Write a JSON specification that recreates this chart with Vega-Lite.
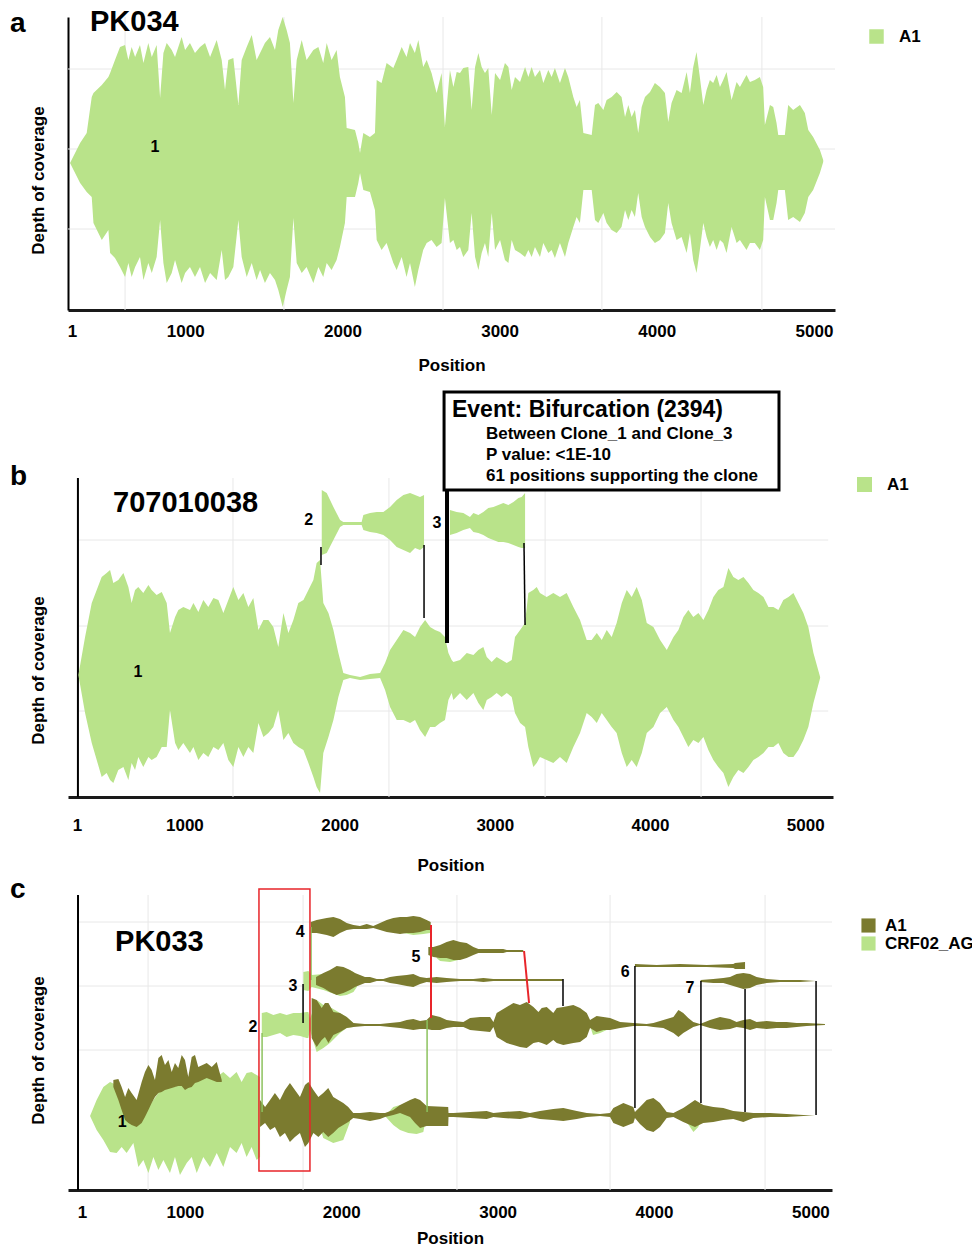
{
"$schema": "https://vega.github.io/schema/vega-lite/v6.json",
"background": "white",
"padding": {"left": 10, "top": 8, "right": 0, "bottom": 0},
"config": {"view": {"stroke": null}, "font": "Liberation Sans", "text": {"color": "black"}},
"spacing": 98,
"bounds": "flush",
"resolve": {"scale": {"color": "independent", "x": "independent", "y": "independent"}, "legend": {"color": "independent"}},
"datasets": {
"a_gx": [{"pos":617},{"pos":1628},{"pos":2640},{"pos":3651},{"pos":4669}],
"a_gy": [{"depth":241},{"depth":161},{"depth":81}],
"a_area": [
{"pos":267,"lo":147,"hi":147},{"pos":331,"lo":127,"hi":167},{"pos":373,"lo":118,"hi":177},{"pos":405,"lo":113,"hi":213},{"pos":416,"lo":87,"hi":217},{"pos":469,"lo":70,"hi":225},{"pos":511,"lo":80,"hi":233},{"pos":522,"lo":57,"hi":237},{"pos":553,"lo":52,"hi":250},{"pos":585,"lo":43,"hi":263},{"pos":617,"lo":33,"hi":265},{"pos":638,"lo":47,"hi":250},{"pos":659,"lo":33,"hi":263},{"pos":681,"lo":43,"hi":253},{"pos":712,"lo":53,"hi":265},{"pos":734,"lo":30,"hi":247},{"pos":765,"lo":47,"hi":267},{"pos":787,"lo":37,"hi":253},{"pos":818,"lo":53,"hi":265},{"pos":840,"lo":90,"hi":212},{"pos":861,"lo":47,"hi":257},{"pos":882,"lo":27,"hi":267},{"pos":914,"lo":37,"hi":260},{"pos":935,"lo":50,"hi":253},{"pos":977,"lo":27,"hi":273},{"pos":999,"lo":37,"hi":260},{"pos":1030,"lo":43,"hi":267},{"pos":1062,"lo":33,"hi":257},{"pos":1094,"lo":43,"hi":263},{"pos":1126,"lo":27,"hi":267},{"pos":1158,"lo":37,"hi":253},{"pos":1200,"lo":30,"hi":270},{"pos":1232,"lo":60,"hi":250},{"pos":1253,"lo":30,"hi":220},{"pos":1274,"lo":33,"hi":250},{"pos":1306,"lo":43,"hi":252},{"pos":1338,"lo":90,"hi":205},{"pos":1359,"lo":53,"hi":250},{"pos":1391,"lo":33,"hi":263},{"pos":1423,"lo":47,"hi":275},{"pos":1454,"lo":30,"hi":250},{"pos":1476,"lo":40,"hi":257},{"pos":1507,"lo":27,"hi":267},{"pos":1539,"lo":37,"hi":273},{"pos":1571,"lo":30,"hi":260},{"pos":1592,"lo":20,"hi":280},{"pos":1620,"lo":3,"hi":293},{"pos":1645,"lo":20,"hi":280},{"pos":1666,"lo":33,"hi":267},{"pos":1688,"lo":92,"hi":207},{"pos":1709,"lo":47,"hi":250},{"pos":1741,"lo":37,"hi":270},{"pos":1772,"lo":43,"hi":250},{"pos":1815,"lo":27,"hi":260},{"pos":1847,"lo":43,"hi":263},{"pos":1878,"lo":33,"hi":247},{"pos":1900,"lo":47,"hi":267},{"pos":1931,"lo":40,"hi":250},{"pos":1963,"lo":50,"hi":260},{"pos":1984,"lo":63,"hi":233},{"pos":2016,"lo":87,"hi":213},{"pos":2027,"lo":113,"hi":182},{"pos":2080,"lo":113,"hi":180},{"pos":2101,"lo":127,"hi":167},{"pos":2112,"lo":137,"hi":157},{"pos":2133,"lo":120,"hi":177},{"pos":2175,"lo":118,"hi":173},{"pos":2207,"lo":100,"hi":177},{"pos":2218,"lo":70,"hi":230},{"pos":2249,"lo":60,"hi":227},{"pos":2281,"lo":67,"hi":247},{"pos":2324,"lo":47,"hi":242},{"pos":2345,"lo":40,"hi":250},{"pos":2377,"lo":53,"hi":263},{"pos":2408,"lo":33,"hi":253},{"pos":2430,"lo":47,"hi":267},{"pos":2461,"lo":23,"hi":257},{"pos":2483,"lo":40,"hi":270},{"pos":2514,"lo":60,"hi":243},{"pos":2536,"lo":67,"hi":250},{"pos":2567,"lo":70,"hi":237},{"pos":2599,"lo":63,"hi":217},{"pos":2631,"lo":67,"hi":237},{"pos":2652,"lo":112,"hi":183},{"pos":2684,"lo":67,"hi":240},{"pos":2706,"lo":70,"hi":223},{"pos":2727,"lo":60,"hi":238},{"pos":2748,"lo":63,"hi":237},{"pos":2769,"lo":53,"hi":242},{"pos":2801,"lo":60,"hi":243},{"pos":2822,"lo":97,"hi":200},{"pos":2844,"lo":53,"hi":243},{"pos":2865,"lo":40,"hi":257},{"pos":2886,"lo":57,"hi":243},{"pos":2907,"lo":67,"hi":237},{"pos":2928,"lo":53,"hi":242},{"pos":2950,"lo":97,"hi":195},{"pos":2971,"lo":60,"hi":237},{"pos":3003,"lo":70,"hi":230},{"pos":3034,"lo":50,"hi":247},{"pos":3056,"lo":47,"hi":243},{"pos":3077,"lo":70,"hi":220},{"pos":3098,"lo":60,"hi":233},{"pos":3130,"lo":57,"hi":228},{"pos":3162,"lo":53,"hi":243},{"pos":3183,"lo":60,"hi":233},{"pos":3204,"lo":53,"hi":243},{"pos":3225,"lo":63,"hi":233},{"pos":3257,"lo":53,"hi":240},{"pos":3278,"lo":67,"hi":227},{"pos":3310,"lo":57,"hi":240},{"pos":3331,"lo":60,"hi":233},{"pos":3352,"lo":52,"hi":242},{"pos":3384,"lo":67,"hi":227},{"pos":3416,"lo":53,"hi":242},{"pos":3437,"lo":67,"hi":233},{"pos":3469,"lo":83,"hi":213},{"pos":3490,"lo":93,"hi":203},{"pos":3511,"lo":87,"hi":210},{"pos":3533,"lo":120,"hi":177},{"pos":3586,"lo":120,"hi":175},{"pos":3607,"lo":90,"hi":205},{"pos":3628,"lo":87,"hi":207},{"pos":3660,"lo":97,"hi":200},{"pos":3681,"lo":87,"hi":210},{"pos":3713,"lo":80,"hi":213},{"pos":3745,"lo":77,"hi":218},{"pos":3776,"lo":83,"hi":213},{"pos":3798,"lo":100,"hi":193},{"pos":3819,"lo":90,"hi":205},{"pos":3840,"lo":100,"hi":193},{"pos":3861,"lo":93,"hi":200},{"pos":3882,"lo":117,"hi":177},{"pos":3904,"lo":93,"hi":203},{"pos":3925,"lo":83,"hi":213},{"pos":3957,"lo":73,"hi":218},{"pos":3988,"lo":67,"hi":227},{"pos":4020,"lo":70,"hi":223},{"pos":4052,"lo":77,"hi":217},{"pos":4073,"lo":107,"hi":188},{"pos":4094,"lo":87,"hi":207},{"pos":4126,"lo":70,"hi":220},{"pos":4158,"lo":73,"hi":217},{"pos":4190,"lo":57,"hi":238},{"pos":4211,"lo":77,"hi":217},{"pos":4232,"lo":50,"hi":243},{"pos":4253,"lo":37,"hi":258},{"pos":4274,"lo":60,"hi":233},{"pos":4296,"lo":87,"hi":205},{"pos":4317,"lo":73,"hi":220},{"pos":4338,"lo":63,"hi":230},{"pos":4359,"lo":70,"hi":227},{"pos":4381,"lo":60,"hi":235},{"pos":4402,"lo":70,"hi":223},{"pos":4423,"lo":67,"hi":230},{"pos":4444,"lo":57,"hi":238},{"pos":4476,"lo":83,"hi":210},{"pos":4508,"lo":67,"hi":228},{"pos":4529,"lo":70,"hi":223},{"pos":4571,"lo":60,"hi":235},{"pos":4593,"lo":67,"hi":228},{"pos":4624,"lo":67,"hi":230},{"pos":4656,"lo":60,"hi":233},{"pos":4677,"lo":70,"hi":223},{"pos":4688,"lo":113,"hi":185},{"pos":4720,"lo":90,"hi":205},{"pos":4741,"lo":90,"hi":203},{"pos":4762,"lo":107,"hi":187},{"pos":4773,"lo":120,"hi":175},{"pos":4815,"lo":120,"hi":175},{"pos":4836,"lo":90,"hi":205},{"pos":4868,"lo":93,"hi":200},{"pos":4911,"lo":88,"hi":205},{"pos":4942,"lo":97,"hi":197},{"pos":4964,"lo":113,"hi":180},{"pos":4995,"lo":120,"hi":173},{"pos":5038,"lo":137,"hi":160},{"pos":5059,"lo":148,"hi":150}],
"a_label": [{"clone":"1","pos":808,"depth":163}],
"a_name": [{"sample":"PK034","pos":394,"depth":288}],
"b_gx": [{"pos":1313},{"pos":2318},{"pos":3324},{"pos":4329}],
"b_gy": [{"depth":257},{"depth":171},{"depth":86}],
"b_axis": [{"pos":314}],
"b_area": [
{"clone":"1","pos":317,"lo":122,"hi":122},{"clone":"1","pos":360,"lo":84,"hi":160},{"clone":"1","pos":403,"lo":54,"hi":194},{"clone":"1","pos":435,"lo":37,"hi":207},{"clone":"1","pos":467,"lo":20,"hi":220},{"clone":"1","pos":499,"lo":24,"hi":224},{"clone":"1","pos":521,"lo":17,"hi":227},{"clone":"1","pos":542,"lo":14,"hi":214},{"clone":"1","pos":574,"lo":27,"hi":217},{"clone":"1","pos":607,"lo":30,"hi":224},{"clone":"1","pos":639,"lo":17,"hi":210},{"clone":"1","pos":660,"lo":34,"hi":194},{"clone":"1","pos":682,"lo":27,"hi":207},{"clone":"1","pos":703,"lo":40,"hi":210},{"clone":"1","pos":735,"lo":30,"hi":204},{"clone":"1","pos":768,"lo":40,"hi":212},{"clone":"1","pos":789,"lo":37,"hi":207},{"clone":"1","pos":821,"lo":40,"hi":202},{"clone":"1","pos":854,"lo":50,"hi":205},{"clone":"1","pos":886,"lo":50,"hi":194},{"clone":"1","pos":907,"lo":87,"hi":164},{"clone":"1","pos":940,"lo":54,"hi":180},{"clone":"1","pos":961,"lo":47,"hi":187},{"clone":"1","pos":993,"lo":54,"hi":190},{"clone":"1","pos":1036,"lo":44,"hi":187},{"clone":"1","pos":1058,"lo":50,"hi":194},{"clone":"1","pos":1090,"lo":37,"hi":185},{"clone":"1","pos":1122,"lo":44,"hi":197},{"clone":"1","pos":1154,"lo":40,"hi":190},{"clone":"1","pos":1187,"lo":50,"hi":199},{"clone":"1","pos":1219,"lo":47,"hi":197},{"clone":"1","pos":1251,"lo":54,"hi":184},{"clone":"1","pos":1283,"lo":37,"hi":197},{"clone":"1","pos":1315,"lo":30,"hi":210},{"clone":"1","pos":1348,"lo":50,"hi":197},{"clone":"1","pos":1380,"lo":40,"hi":204},{"clone":"1","pos":1412,"lo":50,"hi":190},{"clone":"1","pos":1444,"lo":44,"hi":199},{"clone":"1","pos":1477,"lo":74,"hi":167},{"clone":"1","pos":1509,"lo":60,"hi":177},{"clone":"1","pos":1541,"lo":64,"hi":177},{"clone":"1","pos":1573,"lo":70,"hi":170},{"clone":"1","pos":1605,"lo":87,"hi":150},{"clone":"1","pos":1638,"lo":57,"hi":184},{"clone":"1","pos":1670,"lo":64,"hi":164},{"clone":"1","pos":1702,"lo":54,"hi":177},{"clone":"1","pos":1734,"lo":50,"hi":194},{"clone":"1","pos":1767,"lo":47,"hi":197},{"clone":"1","pos":1799,"lo":34,"hi":207},{"clone":"1","pos":1831,"lo":20,"hi":217},{"clone":"1","pos":1852,"lo":10,"hi":234},{"clone":"1","pos":1874,"lo":4,"hi":237},{"clone":"1","pos":1895,"lo":44,"hi":194},{"clone":"1","pos":1928,"lo":60,"hi":184},{"clone":"1","pos":1960,"lo":77,"hi":167},{"clone":"1","pos":1992,"lo":100,"hi":144},{"clone":"1","pos":2024,"lo":117,"hi":124},{"clone":"1","pos":2067,"lo":119,"hi":122},{"clone":"1","pos":2132,"lo":117,"hi":120},{"clone":"1","pos":2196,"lo":118,"hi":123},{"clone":"1","pos":2261,"lo":119,"hi":124},{"clone":"1","pos":2293,"lo":107,"hi":134},{"clone":"1","pos":2325,"lo":90,"hi":147},{"clone":"1","pos":2368,"lo":77,"hi":157},{"clone":"1","pos":2411,"lo":77,"hi":167},{"clone":"1","pos":2454,"lo":74,"hi":164},{"clone":"1","pos":2486,"lo":77,"hi":160},{"clone":"1","pos":2518,"lo":67,"hi":170},{"clone":"1","pos":2551,"lo":60,"hi":177},{"clone":"1","pos":2583,"lo":70,"hi":170},{"clone":"1","pos":2615,"lo":70,"hi":167},{"clone":"1","pos":2647,"lo":74,"hi":165},{"clone":"1","pos":2679,"lo":77,"hi":160},{"clone":"1","pos":2701,"lo":97,"hi":144},{"clone":"1","pos":2722,"lo":104,"hi":137},{"clone":"1","pos":2733,"lo":97,"hi":135},{"clone":"1","pos":2776,"lo":104,"hi":137},{"clone":"1","pos":2819,"lo":97,"hi":144},{"clone":"1","pos":2862,"lo":104,"hi":142},{"clone":"1","pos":2894,"lo":94,"hi":147},{"clone":"1","pos":2926,"lo":87,"hi":150},{"clone":"1","pos":2948,"lo":97,"hi":140},{"clone":"1","pos":2980,"lo":100,"hi":135},{"clone":"1","pos":3012,"lo":104,"hi":140},{"clone":"1","pos":3044,"lo":100,"hi":137},{"clone":"1","pos":3077,"lo":104,"hi":134},{"clone":"1","pos":3109,"lo":100,"hi":137},{"clone":"1","pos":3130,"lo":84,"hi":160},{"clone":"1","pos":3163,"lo":74,"hi":167},{"clone":"1","pos":3195,"lo":70,"hi":174},{"clone":"1","pos":3216,"lo":50,"hi":204},{"clone":"1","pos":3248,"lo":30,"hi":207},{"clone":"1","pos":3270,"lo":34,"hi":210},{"clone":"1","pos":3291,"lo":40,"hi":204},{"clone":"1","pos":3334,"lo":37,"hi":200},{"clone":"1","pos":3377,"lo":34,"hi":204},{"clone":"1","pos":3420,"lo":40,"hi":200},{"clone":"1","pos":3463,"lo":34,"hi":204},{"clone":"1","pos":3506,"lo":50,"hi":190},{"clone":"1","pos":3549,"lo":64,"hi":177},{"clone":"1","pos":3592,"lo":84,"hi":157},{"clone":"1","pos":3624,"lo":80,"hi":157},{"clone":"1","pos":3657,"lo":74,"hi":164},{"clone":"1","pos":3689,"lo":84,"hi":157},{"clone":"1","pos":3721,"lo":77,"hi":167},{"clone":"1","pos":3753,"lo":70,"hi":160},{"clone":"1","pos":3785,"lo":64,"hi":174},{"clone":"1","pos":3818,"lo":44,"hi":194},{"clone":"1","pos":3850,"lo":30,"hi":207},{"clone":"1","pos":3882,"lo":37,"hi":200},{"clone":"1","pos":3914,"lo":30,"hi":210},{"clone":"1","pos":3947,"lo":44,"hi":197},{"clone":"1","pos":3979,"lo":64,"hi":174},{"clone":"1","pos":4022,"lo":70,"hi":170},{"clone":"1","pos":4065,"lo":84,"hi":157},{"clone":"1","pos":4108,"lo":90,"hi":147},{"clone":"1","pos":4151,"lo":77,"hi":160},{"clone":"1","pos":4183,"lo":70,"hi":167},{"clone":"1","pos":4215,"lo":60,"hi":180},{"clone":"1","pos":4247,"lo":50,"hi":187},{"clone":"1","pos":4279,"lo":57,"hi":180},{"clone":"1","pos":4312,"lo":54,"hi":184},{"clone":"1","pos":4344,"lo":60,"hi":177},{"clone":"1","pos":4376,"lo":47,"hi":187},{"clone":"1","pos":4408,"lo":37,"hi":200},{"clone":"1","pos":4440,"lo":30,"hi":207},{"clone":"1","pos":4473,"lo":24,"hi":210},{"clone":"1","pos":4505,"lo":10,"hi":229},{"clone":"1","pos":4537,"lo":20,"hi":220},{"clone":"1","pos":4569,"lo":27,"hi":217},{"clone":"1","pos":4602,"lo":24,"hi":220},{"clone":"1","pos":4634,"lo":30,"hi":214},{"clone":"1","pos":4666,"lo":37,"hi":207},{"clone":"1","pos":4698,"lo":40,"hi":204},{"clone":"1","pos":4731,"lo":44,"hi":200},{"clone":"1","pos":4763,"lo":50,"hi":190},{"clone":"1","pos":4795,"lo":50,"hi":190},{"clone":"1","pos":4827,"lo":54,"hi":187},{"clone":"1","pos":4859,"lo":44,"hi":197},{"clone":"1","pos":4892,"lo":40,"hi":200},{"clone":"1","pos":4924,"lo":40,"hi":204},{"clone":"1","pos":4956,"lo":47,"hi":194},{"clone":"1","pos":4988,"lo":57,"hi":184},{"clone":"1","pos":5020,"lo":70,"hi":170},{"clone":"1","pos":5053,"lo":94,"hi":144},{"clone":"1","pos":5096,"lo":119,"hi":120},
{"clone":"2","pos":1885,"lo":242,"hi":307},{"clone":"2","pos":1917,"lo":244,"hi":304},{"clone":"2","pos":1960,"lo":257,"hi":290},{"clone":"2","pos":2003,"lo":270,"hi":277},{"clone":"2","pos":2024,"lo":272,"hi":275},{"clone":"2","pos":2142,"lo":272,"hi":275},{"clone":"2","pos":2153,"lo":267,"hi":282},{"clone":"2","pos":2196,"lo":265,"hi":284},{"clone":"2","pos":2239,"lo":264,"hi":285},{"clone":"2","pos":2282,"lo":262,"hi":285},{"clone":"2","pos":2325,"lo":257,"hi":290},{"clone":"2","pos":2368,"lo":250,"hi":297},{"clone":"2","pos":2411,"lo":247,"hi":302},{"clone":"2","pos":2454,"lo":244,"hi":304},{"clone":"2","pos":2486,"lo":249,"hi":302},{"clone":"2","pos":2518,"lo":247,"hi":300},{"clone":"2","pos":2544,"lo":250,"hi":302},
{"clone":"3","pos":2711,"lo":262,"hi":287},{"clone":"3","pos":2754,"lo":264,"hi":285},{"clone":"3","pos":2797,"lo":267,"hi":284},{"clone":"3","pos":2840,"lo":269,"hi":280},{"clone":"3","pos":2862,"lo":265,"hi":284},{"clone":"3","pos":2894,"lo":264,"hi":282},{"clone":"3","pos":2926,"lo":262,"hi":285},{"clone":"3","pos":2958,"lo":259,"hi":289},{"clone":"3","pos":2991,"lo":257,"hi":290},{"clone":"3","pos":3023,"lo":255,"hi":292},{"clone":"3","pos":3055,"lo":255,"hi":294},{"clone":"3","pos":3087,"lo":254,"hi":292},{"clone":"3","pos":3120,"lo":252,"hi":295},{"clone":"3","pos":3152,"lo":250,"hi":299},{"clone":"3","pos":3173,"lo":249,"hi":300},{"clone":"3","pos":3195,"lo":249,"hi":304}],
"b_links": [{"pos":1880,"pos2":1880,"lo":232,"hi":250},{"pos":2544,"pos2":2544,"lo":179,"hi":252},{"pos":3195,"pos2":3188,"lo":172,"hi":254}],
"b_thick": [{"pos":2692,"pos2":2692,"lo":154,"hi":307}],
"b_box": [{"pos":2673,"pos2":4831,"lo":307,"hi":405}],
"b_head": [{"text":"Event: Bifurcation (2394)","pos":2724,"depth":387}],
"b_body": [{"text":"Between Clone_1 and Clone_3","pos":2943,"depth":363},{"text":"P value: <1E-10","pos":2943,"depth":342},{"text":"61 positions supporting the clone","pos":2943,"depth":321}],
"b_label": [{"clone":"1","pos":701,"depth":125},{"clone":"2","pos":1801,"depth":277},{"clone":"3","pos":2627,"depth":274}],
"b_name": [{"sample":"707010038","pos":540,"depth":294}],
"c_gx": [{"pos":765},{"pos":1756},{"pos":2740},{"pos":3719},{"pos":4710}],
"c_gy": [{"depth":268},{"depth":204},{"depth":140}],
"c_axis": [{"pos":317}],
"c_crf": [
{"clone":"1a","pos":394,"lo":74,"hi":74},{"clone":"1a","pos":436,"lo":60,"hi":90},{"clone":"1a","pos":479,"lo":50,"hi":103},{"clone":"1a","pos":522,"lo":38,"hi":108},{"clone":"1a","pos":564,"lo":37,"hi":105},{"clone":"1a","pos":596,"lo":43,"hi":90},{"clone":"1a","pos":628,"lo":37,"hi":80},{"clone":"1a","pos":671,"lo":47,"hi":77},{"clone":"1a","pos":703,"lo":23,"hi":78},{"clone":"1a","pos":735,"lo":30,"hi":80},{"clone":"1a","pos":767,"lo":17,"hi":83},{"clone":"1a","pos":799,"lo":33,"hi":90},{"clone":"1a","pos":831,"lo":20,"hi":97},{"clone":"1a","pos":863,"lo":30,"hi":100},{"clone":"1a","pos":905,"lo":17,"hi":103},{"clone":"1a","pos":937,"lo":33,"hi":103},{"clone":"1a","pos":969,"lo":15,"hi":107},{"clone":"1a","pos":1012,"lo":27,"hi":105},{"clone":"1a","pos":1044,"lo":33,"hi":108},{"clone":"1a","pos":1076,"lo":17,"hi":115},{"clone":"1a","pos":1118,"lo":33,"hi":122},{"clone":"1a","pos":1161,"lo":23,"hi":118},{"clone":"1a","pos":1204,"lo":37,"hi":113},{"clone":"1a","pos":1246,"lo":23,"hi":118},{"clone":"1a","pos":1289,"lo":43,"hi":112},{"clone":"1a","pos":1331,"lo":37,"hi":118},{"clone":"1a","pos":1363,"lo":47,"hi":108},{"clone":"1a","pos":1395,"lo":33,"hi":117},{"clone":"1a","pos":1427,"lo":43,"hi":118},{"clone":"1a","pos":1459,"lo":30,"hi":115},{"clone":"1a","pos":1481,"lo":33,"hi":113},
{"clone":"1b","pos":1854,"lo":68,"hi":72},{"clone":"1b","pos":1885,"lo":52,"hi":73},{"clone":"1b","pos":1949,"lo":47,"hi":77},{"clone":"1b","pos":2013,"lo":50,"hi":78},{"clone":"1b","pos":2056,"lo":68,"hi":75},
{"clone":"1c","pos":2280,"lo":74,"hi":74},{"clone":"1c","pos":2333,"lo":65,"hi":83},{"clone":"1c","pos":2376,"lo":60,"hi":85},{"clone":"1c","pos":2429,"lo":57,"hi":82},{"clone":"1c","pos":2482,"lo":56,"hi":77},{"clone":"1c","pos":2525,"lo":58,"hi":72},{"clone":"1c","pos":2540,"lo":70,"hi":72},
{"clone":"1d","pos":4200,"lo":70,"hi":75},{"clone":"1d","pos":4252,"lo":58,"hi":77},{"clone":"1d","pos":4283,"lo":63,"hi":77},{"clone":"1d","pos":4300,"lo":70,"hi":75},
{"clone":"2a","pos":1492,"lo":153,"hi":177},{"clone":"2a","pos":1523,"lo":153,"hi":178},{"clone":"2a","pos":1566,"lo":155,"hi":175},{"clone":"2a","pos":1609,"lo":157,"hi":177},{"clone":"2a","pos":1651,"lo":153,"hi":175},{"clone":"2a","pos":1694,"lo":155,"hi":177},{"clone":"2a","pos":1737,"lo":154,"hi":177},{"clone":"2a","pos":1779,"lo":152,"hi":178},{"clone":"2a","pos":1790,"lo":152,"hi":178},{"clone":"2a","pos":1800,"lo":160,"hi":171},{"clone":"2a","pos":1843,"lo":138,"hi":190},{"clone":"2a","pos":1886,"lo":142,"hi":185},{"clone":"2a","pos":1928,"lo":147,"hi":183},{"clone":"2a","pos":1992,"lo":157,"hi":177},{"clone":"2a","pos":2035,"lo":162,"hi":173},{"clone":"2a","pos":2078,"lo":163,"hi":167},
{"clone":"2b","pos":3595,"lo":162,"hi":168},{"clone":"2b","pos":3610,"lo":155,"hi":168},{"clone":"2b","pos":3655,"lo":157,"hi":167},{"clone":"2b","pos":3697,"lo":160,"hi":165},
{"clone":"3","pos":1758,"lo":200,"hi":218},{"clone":"3","pos":1790,"lo":199,"hi":219},{"clone":"3","pos":1811,"lo":203,"hi":215},{"clone":"3","pos":1886,"lo":200,"hi":216},{"clone":"3","pos":1992,"lo":194,"hi":222},{"clone":"3","pos":2035,"lo":195,"hi":221},{"clone":"3","pos":2078,"lo":198,"hi":218},{"clone":"3","pos":2100,"lo":203,"hi":215},
{"clone":"4","pos":2397,"lo":257,"hi":267},{"clone":"4","pos":2461,"lo":255,"hi":263},{"clone":"4","pos":2525,"lo":256,"hi":263},{"clone":"4","pos":2568,"lo":257,"hi":263},
{"clone":"5","pos":2610,"lo":232,"hi":243},{"clone":"5","pos":2632,"lo":229,"hi":243},{"clone":"5","pos":2696,"lo":228,"hi":243},{"clone":"5","pos":2749,"lo":230,"hi":242},{"clone":"5","pos":2770,"lo":232,"hi":242}],
"c_a1": [
{"clone":"1a","pos":543,"lo":103,"hi":110},{"clone":"1a","pos":575,"lo":90,"hi":111},{"clone":"1a","pos":596,"lo":80,"hi":103},{"clone":"1a","pos":618,"lo":70,"hi":93},{"clone":"1a","pos":639,"lo":67,"hi":102},{"clone":"1a","pos":660,"lo":65,"hi":97},{"clone":"1a","pos":692,"lo":63,"hi":90},{"clone":"1a","pos":724,"lo":67,"hi":108},{"clone":"1a","pos":745,"lo":73,"hi":118},{"clone":"1a","pos":767,"lo":80,"hi":125},{"clone":"1a","pos":788,"lo":87,"hi":120},{"clone":"1a","pos":809,"lo":93,"hi":110},{"clone":"1a","pos":831,"lo":97,"hi":132},{"clone":"1a","pos":852,"lo":98,"hi":135},{"clone":"1a","pos":873,"lo":100,"hi":125},{"clone":"1a","pos":895,"lo":101,"hi":130},{"clone":"1a","pos":916,"lo":102,"hi":118},{"clone":"1a","pos":937,"lo":103,"hi":127},{"clone":"1a","pos":958,"lo":104,"hi":122},{"clone":"1a","pos":980,"lo":104,"hi":135},{"clone":"1a","pos":1001,"lo":100,"hi":130},{"clone":"1a","pos":1022,"lo":102,"hi":113},{"clone":"1a","pos":1044,"lo":103,"hi":133},{"clone":"1a","pos":1065,"lo":107,"hi":135},{"clone":"1a","pos":1086,"lo":108,"hi":123},{"clone":"1a","pos":1140,"lo":112,"hi":127},{"clone":"1a","pos":1172,"lo":110,"hi":123},{"clone":"1a","pos":1204,"lo":108,"hi":128},{"clone":"1a","pos":1236,"lo":108,"hi":110},
{"clone":"1b","pos":1481,"lo":63,"hi":90},{"clone":"1b","pos":1513,"lo":67,"hi":83},{"clone":"1b","pos":1545,"lo":60,"hi":90},{"clone":"1b","pos":1576,"lo":63,"hi":97},{"clone":"1b","pos":1608,"lo":53,"hi":90},{"clone":"1b","pos":1640,"lo":57,"hi":100},{"clone":"1b","pos":1672,"lo":48,"hi":107},{"clone":"1b","pos":1704,"lo":53,"hi":100},{"clone":"1b","pos":1736,"lo":57,"hi":93},{"clone":"1b","pos":1768,"lo":43,"hi":105},{"clone":"1b","pos":1790,"lo":47,"hi":108},{"clone":"1b","pos":1822,"lo":57,"hi":100},{"clone":"1b","pos":1854,"lo":53,"hi":93},{"clone":"1b","pos":1885,"lo":58,"hi":97},{"clone":"1b","pos":1917,"lo":53,"hi":102},{"clone":"1b","pos":1949,"lo":57,"hi":93},{"clone":"1b","pos":1981,"lo":62,"hi":90},{"clone":"1b","pos":2013,"lo":65,"hi":87},{"clone":"1b","pos":2045,"lo":68,"hi":83},{"clone":"1b","pos":2077,"lo":72,"hi":77},{"clone":"1b","pos":2120,"lo":71,"hi":77},{"clone":"1b","pos":2184,"lo":69,"hi":78},{"clone":"1b","pos":2248,"lo":71,"hi":77},{"clone":"1b","pos":2280,"lo":73,"hi":77},{"clone":"1b","pos":2333,"lo":75,"hi":80},{"clone":"1b","pos":2376,"lo":77,"hi":85},{"clone":"1b","pos":2440,"lo":73,"hi":90},{"clone":"1b","pos":2472,"lo":67,"hi":92},{"clone":"1b","pos":2504,"lo":62,"hi":90},{"clone":"1b","pos":2546,"lo":64,"hi":84},{"clone":"1b","pos":2684,"lo":64,"hi":83},{"clone":"1b","pos":2686,"lo":73,"hi":77},{"clone":"1b","pos":2717,"lo":73,"hi":77},{"clone":"1b","pos":2824,"lo":72,"hi":78},{"clone":"1b","pos":2930,"lo":71,"hi":79},{"clone":"1b","pos":2973,"lo":73,"hi":77},{"clone":"1b","pos":3037,"lo":72,"hi":78},{"clone":"1b","pos":3143,"lo":71,"hi":79},{"clone":"1b","pos":3207,"lo":73,"hi":77},{"clone":"1b","pos":3271,"lo":71,"hi":79},{"clone":"1b","pos":3356,"lo":70,"hi":81},{"clone":"1b","pos":3420,"lo":69,"hi":82},{"clone":"1b","pos":3506,"lo":71,"hi":79},{"clone":"1b","pos":3570,"lo":73,"hi":77},{"clone":"1b","pos":3655,"lo":74,"hi":76},{"clone":"1b","pos":3719,"lo":73,"hi":77},{"clone":"1b","pos":3740,"lo":67,"hi":82},{"clone":"1b","pos":3804,"lo":63,"hi":87},{"clone":"1b","pos":3868,"lo":67,"hi":83},{"clone":"1b","pos":3878,"lo":72,"hi":78},{"clone":"1b","pos":3910,"lo":66,"hi":83},{"clone":"1b","pos":3953,"lo":60,"hi":90},{"clone":"1b","pos":3996,"lo":58,"hi":92},{"clone":"1b","pos":4038,"lo":63,"hi":87},{"clone":"1b","pos":4081,"lo":72,"hi":78},{"clone":"1b","pos":4124,"lo":73,"hi":77},{"clone":"1b","pos":4187,"lo":68,"hi":82},{"clone":"1b","pos":4262,"lo":63,"hi":90},{"clone":"1b","pos":4315,"lo":67,"hi":85},{"clone":"1b","pos":4379,"lo":68,"hi":83},{"clone":"1b","pos":4443,"lo":70,"hi":82},{"clone":"1b","pos":4507,"lo":71,"hi":79},{"clone":"1b","pos":4571,"lo":68,"hi":78},{"clone":"1b","pos":4635,"lo":72,"hi":77},{"clone":"1b","pos":4742,"lo":73,"hi":77},{"clone":"1b","pos":4848,"lo":73,"hi":76},{"clone":"1b","pos":4955,"lo":74,"hi":75},{"clone":"1b","pos":5029,"lo":75,"hi":75},
{"clone":"2","pos":1811,"lo":152,"hi":192},{"clone":"2","pos":1843,"lo":143,"hi":190},{"clone":"2","pos":1875,"lo":150,"hi":182},{"clone":"2","pos":1896,"lo":153,"hi":187},{"clone":"2","pos":1918,"lo":147,"hi":187},{"clone":"2","pos":1950,"lo":155,"hi":178},{"clone":"2","pos":1992,"lo":158,"hi":177},{"clone":"2","pos":2035,"lo":162,"hi":173},{"clone":"2","pos":2078,"lo":163,"hi":167},{"clone":"2","pos":2150,"lo":164,"hi":166},{"clone":"2","pos":2250,"lo":164,"hi":166},{"clone":"2","pos":2312,"lo":163,"hi":167},{"clone":"2","pos":2376,"lo":162,"hi":168},{"clone":"2","pos":2419,"lo":161,"hi":170},{"clone":"2","pos":2461,"lo":160,"hi":171},{"clone":"2","pos":2504,"lo":161,"hi":169},{"clone":"2","pos":2546,"lo":161,"hi":170},{"clone":"2","pos":2579,"lo":160,"hi":175},{"clone":"2","pos":2632,"lo":160,"hi":173},{"clone":"2","pos":2674,"lo":162,"hi":170},{"clone":"2","pos":2717,"lo":163,"hi":169},{"clone":"2","pos":2781,"lo":163,"hi":168},{"clone":"2","pos":2824,"lo":160,"hi":172},{"clone":"2","pos":2888,"lo":159,"hi":173},{"clone":"2","pos":2952,"lo":158,"hi":173},{"clone":"2","pos":2973,"lo":163,"hi":168},{"clone":"2","pos":2994,"lo":153,"hi":177},{"clone":"2","pos":3058,"lo":147,"hi":183},{"clone":"2","pos":3101,"lo":145,"hi":187},{"clone":"2","pos":3143,"lo":143,"hi":185},{"clone":"2","pos":3186,"lo":142,"hi":188},{"clone":"2","pos":3229,"lo":147,"hi":183},{"clone":"2","pos":3261,"lo":148,"hi":178},{"clone":"2","pos":3282,"lo":147,"hi":182},{"clone":"2","pos":3314,"lo":145,"hi":183},{"clone":"2","pos":3356,"lo":150,"hi":177},{"clone":"2","pos":3378,"lo":147,"hi":182},{"clone":"2","pos":3420,"lo":145,"hi":183},{"clone":"2","pos":3484,"lo":147,"hi":185},{"clone":"2","pos":3527,"lo":148,"hi":182},{"clone":"2","pos":3570,"lo":153,"hi":177},{"clone":"2","pos":3591,"lo":162,"hi":170},{"clone":"2","pos":3633,"lo":158,"hi":174},{"clone":"2","pos":3676,"lo":160,"hi":173},{"clone":"2","pos":3719,"lo":160,"hi":172},{"clone":"2","pos":3783,"lo":162,"hi":168},{"clone":"2","pos":3868,"lo":164,"hi":167},{"clone":"2","pos":3953,"lo":164,"hi":166},{"clone":"2","pos":3996,"lo":163,"hi":167},{"clone":"2","pos":4060,"lo":162,"hi":170},{"clone":"2","pos":4124,"lo":157,"hi":173},{"clone":"2","pos":4156,"lo":153,"hi":180},{"clone":"2","pos":4187,"lo":157,"hi":177},{"clone":"2","pos":4219,"lo":160,"hi":172},{"clone":"2","pos":4251,"lo":163,"hi":168},{"clone":"2","pos":4294,"lo":165,"hi":166},{"clone":"2","pos":4358,"lo":162,"hi":170},{"clone":"2","pos":4422,"lo":160,"hi":173},{"clone":"2","pos":4486,"lo":161,"hi":171},{"clone":"2","pos":4528,"lo":163,"hi":168},{"clone":"2","pos":4571,"lo":162,"hi":170},{"clone":"2","pos":4614,"lo":160,"hi":171},{"clone":"2","pos":4656,"lo":162,"hi":168},{"clone":"2","pos":4720,"lo":161,"hi":169},{"clone":"2","pos":4784,"lo":162,"hi":168},{"clone":"2","pos":4848,"lo":162,"hi":168},{"clone":"2","pos":4912,"lo":163,"hi":167},{"clone":"2","pos":4976,"lo":164,"hi":167},{"clone":"2","pos":5093,"lo":165,"hi":166},
{"clone":"3","pos":1839,"lo":205,"hi":213},{"clone":"3","pos":1886,"lo":202,"hi":217},{"clone":"3","pos":1928,"lo":198,"hi":220},{"clone":"3","pos":1971,"lo":195,"hi":224},{"clone":"3","pos":2014,"lo":197,"hi":223},{"clone":"3","pos":2056,"lo":200,"hi":220},{"clone":"3","pos":2088,"lo":203,"hi":217},{"clone":"3","pos":2120,"lo":205,"hi":215},{"clone":"3","pos":2152,"lo":207,"hi":213},{"clone":"3","pos":2184,"lo":207,"hi":213},{"clone":"3","pos":2227,"lo":209,"hi":211},{"clone":"3","pos":2269,"lo":209,"hi":211},{"clone":"3","pos":2312,"lo":207,"hi":213},{"clone":"3","pos":2355,"lo":206,"hi":214},{"clone":"3","pos":2419,"lo":204,"hi":215},{"clone":"3","pos":2461,"lo":203,"hi":216},{"clone":"3","pos":2504,"lo":206,"hi":213},{"clone":"3","pos":2546,"lo":208,"hi":212},{"clone":"3","pos":2610,"lo":207,"hi":213},{"clone":"3","pos":2674,"lo":208,"hi":212},{"clone":"3","pos":2760,"lo":209,"hi":211},{"clone":"3","pos":2845,"lo":209,"hi":211},{"clone":"3","pos":2909,"lo":208,"hi":212},{"clone":"3","pos":2973,"lo":209,"hi":211},{"clone":"3","pos":3058,"lo":209,"hi":211},{"clone":"3","pos":3164,"lo":209,"hi":211},{"clone":"3","pos":3271,"lo":209,"hi":211},{"clone":"3","pos":3416,"lo":209,"hi":211},
{"clone":"4","pos":1805,"lo":257,"hi":268},{"clone":"4","pos":1843,"lo":257,"hi":270},{"clone":"4","pos":1907,"lo":255,"hi":272},{"clone":"4","pos":1950,"lo":253,"hi":273},{"clone":"4","pos":1992,"lo":257,"hi":271},{"clone":"4","pos":2035,"lo":260,"hi":267},{"clone":"4","pos":2078,"lo":261,"hi":265},{"clone":"4","pos":2120,"lo":261,"hi":264},{"clone":"4","pos":2163,"lo":261,"hi":266},{"clone":"4","pos":2205,"lo":262,"hi":264},{"clone":"4","pos":2248,"lo":260,"hi":267},{"clone":"4","pos":2291,"lo":258,"hi":270},{"clone":"4","pos":2333,"lo":257,"hi":272},{"clone":"4","pos":2376,"lo":256,"hi":273},{"clone":"4","pos":2419,"lo":257,"hi":273},{"clone":"4","pos":2461,"lo":257,"hi":274},{"clone":"4","pos":2504,"lo":258,"hi":273},{"clone":"4","pos":2546,"lo":260,"hi":270},{"clone":"4","pos":2572,"lo":260,"hi":268},
{"clone":"5","pos":2557,"lo":235,"hi":243},{"clone":"5","pos":2589,"lo":233,"hi":243},{"clone":"5","pos":2632,"lo":232,"hi":245},{"clone":"5","pos":2674,"lo":232,"hi":248},{"clone":"5","pos":2717,"lo":230,"hi":250},{"clone":"5","pos":2760,"lo":230,"hi":248},{"clone":"5","pos":2802,"lo":232,"hi":247},{"clone":"5","pos":2845,"lo":235,"hi":243},{"clone":"5","pos":2877,"lo":237,"hi":241},{"clone":"5","pos":2909,"lo":237,"hi":241},{"clone":"5","pos":3036,"lo":237,"hi":241},{"clone":"5","pos":3058,"lo":238,"hi":240},{"clone":"5","pos":3164,"lo":238,"hi":240},
{"clone":"6","pos":3878,"lo":223,"hi":226},{"clone":"6","pos":4017,"lo":223,"hi":225},{"clone":"6","pos":4166,"lo":223,"hi":226},{"clone":"6","pos":4337,"lo":223,"hi":225},{"clone":"6","pos":4507,"lo":222,"hi":226},{"clone":"6","pos":4518,"lo":221,"hi":227},{"clone":"6","pos":4582,"lo":221,"hi":228},
{"clone":"7","pos":4298,"lo":208,"hi":210},{"clone":"7","pos":4379,"lo":207,"hi":211},{"clone":"7","pos":4443,"lo":207,"hi":212},{"clone":"7","pos":4486,"lo":205,"hi":213},{"clone":"7","pos":4528,"lo":203,"hi":216},{"clone":"7","pos":4571,"lo":201,"hi":217},{"clone":"7","pos":4614,"lo":202,"hi":216},{"clone":"7","pos":4656,"lo":205,"hi":213},{"clone":"7","pos":4720,"lo":207,"hi":211},{"clone":"7","pos":4805,"lo":208,"hi":210},{"clone":"7","pos":4933,"lo":208,"hi":210},{"clone":"7","pos":5035,"lo":209,"hi":209}],
"c_black": [{"pos":1756,"pos2":1756,"lo":167,"hi":206},{"pos":3418,"pos2":3418,"lo":184,"hi":211},{"pos":3878,"pos2":3878,"lo":82,"hi":224},{"pos":4300,"pos2":4300,"lo":87,"hi":209},{"pos":4582,"pos2":4582,"lo":78,"hi":201},{"pos":5036,"pos2":5036,"lo":75,"hi":209}],
"c_red": [{"pos":2574,"pos2":2574,"lo":172,"hi":265},{"pos":3201,"pos2":3169,"lo":187,"hi":239}],
"c_green": [{"pos":1494,"pos2":1494,"lo":78,"hi":157},{"pos":1807,"pos2":1807,"lo":210,"hi":263},{"pos":2549,"pos2":2549,"lo":78,"hi":170}],
"c_box": [{"pos":1474,"pos2":1800,"lo":19,"hi":301}],
"c_label": [{"clone":"1","pos":599,"depth":68},{"clone":"2","pos":1436,"depth":163},{"clone":"3","pos":1692,"depth":204},{"clone":"4","pos":1737,"depth":258},{"clone":"5","pos":2478,"depth":233},{"clone":"6","pos":3815,"depth":218},{"clone":"7","pos":4230,"depth":202}],
"c_name": [{"sample":"PK033","pos":554,"depth":248}]
},
"vconcat": [
{
"width": 767, "height": 293,
"title": {"text": "a", "anchor": "start", "frame": "group", "orient": "top", "offset": 0, "dx": -58, "dy": 30, "fontSize": 28, "fontWeight": "bold", "color": "black"},
"layer": [
{"data": {"name": "a_gx"}, "mark": {"type": "rule", "color": "#e8e8e8", "strokeWidth": 1}, "encoding": {"x": {"field": "pos", "type": "quantitative", "title": "Position"}}},
{"data": {"name": "a_gy"}, "mark": {"type": "rule", "color": "#e8e8e8", "strokeWidth": 1}, "encoding": {"y": {"field": "depth", "type": "quantitative", "title": "Depth of coverage"}}},
{"data": {"name": "a_area"}, "mark": {"type": "area", "opacity": 1},
 "encoding": {
  "x": {"field": "pos", "type": "quantitative", "title": "Position", "scale": {"domain": [254, 5134], "nice": false, "zero": false},
   "axis": {"values": [280, 1000, 2000, 3000, 4000, 5000], "format": "d", "labelExpr": "datum.value < 500 ? '1' : datum.label", "grid": false, "ticks": false, "tickSize": 0, "domainColor": "#1a1a1a", "domainWidth": 3, "labelFontSize": 17, "labelFontWeight": "bold", "labelColor": "black", "labelPadding": 13, "labelFlush": false, "labelOverlap": false, "labelBound": false, "titleFontSize": 17, "titleFontWeight": "bold", "titleColor": "black", "titleY": 55, "titleBaseline": "middle"}},
  "y": {"field": "lo", "type": "quantitative", "title": "Depth of coverage", "scale": {"domain": [0, 293], "nice": false, "zero": false},
   "axis": {"labels": false, "ticks": false, "grid": false, "domain": true, "domainColor": "black", "domainWidth": 2, "titleFontSize": 17, "titleFontWeight": "bold", "titleColor": "black", "titleX": -30, "titleY": 163, "titleBaseline": "middle"}},
  "y2": {"field": "hi"},
  "color": {"datum": "A1", "scale": {"domain": ["A1"], "range": ["#b9e38a"]},
   "legend": {"orient": "none", "legendX": 800, "legendY": 11, "title": null, "symbolType": "square", "symbolSize": 210, "symbolStrokeWidth": 0, "symbolOpacity": 1, "labelFontSize": 17, "labelFontWeight": "bold", "labelColor": "black", "labelOffset": 14, "padding": 0}}
 }},
{"data": {"name": "a_label"}, "mark": {"type": "text", "fontSize": 16, "fontWeight": "bold", "color": "black"}, "encoding": {"x": {"field": "pos", "type": "quantitative", "title": "Position"}, "y": {"field": "depth", "type": "quantitative", "title": "Depth of coverage"}, "text": {"field": "clone"}}},
{"data": {"name": "a_name"}, "mark": {"type": "text", "fontSize": 29, "fontWeight": "bold", "align": "left", "baseline": "middle", "color": "black"}, "encoding": {"x": {"field": "pos", "type": "quantitative", "title": "Position"}, "y": {"field": "depth", "type": "quantitative", "title": "Depth of coverage"}, "text": {"field": "sample"}}}
]
},
{
"width": 765, "height": 389,
"title": {"text": "b", "anchor": "start", "frame": "group", "orient": "top", "offset": 0, "dx": -58, "dy": 100, "fontSize": 28, "fontWeight": "bold", "color": "black"},
"layer": [
{"data": {"name": "b_gx"}, "mark": {"type": "rule", "color": "#e8e8e8", "strokeWidth": 1}, "encoding": {"x": {"field": "pos", "type": "quantitative", "title": "Position"}, "y": {"datum": 0, "type": "quantitative"}, "y2": {"datum": 319}}},
{"data": {"name": "b_gy"}, "mark": {"type": "rule", "color": "#e8e8e8", "strokeWidth": 1}, "encoding": {"y": {"field": "depth", "type": "quantitative", "title": "Depth of coverage"}, "x": {"datum": 314, "type": "quantitative"}, "x2": {"datum": 5148}}},
{"data": {"name": "b_axis"}, "mark": {"type": "rule", "color": "black", "strokeWidth": 2}, "encoding": {"x": {"field": "pos", "type": "quantitative", "title": "Position"}, "y": {"datum": 0, "type": "quantitative"}, "y2": {"datum": 319}}},
{"data": {"name": "b_area"}, "mark": {"type": "area", "opacity": 1},
 "encoding": {
  "x": {"field": "pos", "type": "quantitative", "title": "Position", "scale": {"domain": [250, 5179], "nice": false, "zero": false},
   "axis": {"values": [308, 1000, 2000, 3000, 4000, 5000], "format": "d", "labelExpr": "datum.value < 500 ? '1' : datum.label", "grid": false, "ticks": false, "tickSize": 0, "domainColor": "#1a1a1a", "domainWidth": 3, "labelFontSize": 17, "labelFontWeight": "bold", "labelColor": "black", "labelPadding": 20, "labelFlush": false, "labelOverlap": false, "labelBound": false, "titleFontSize": 17, "titleFontWeight": "bold", "titleColor": "black", "titleY": 68, "titleBaseline": "middle"}},
  "y": {"field": "lo", "type": "quantitative", "title": "Depth of coverage", "scale": {"domain": [0, 389], "nice": false, "zero": false},
   "axis": {"labels": false, "ticks": false, "grid": false, "domain": false, "titleFontSize": 17, "titleFontWeight": "bold", "titleColor": "black", "titleX": -30, "titleY": 262, "titleBaseline": "middle"}},
  "y2": {"field": "hi"},
  "detail": {"field": "clone"},
  "color": {"datum": "A1", "scale": {"domain": ["A1"], "range": ["#b9e38a"]},
   "legend": {"orient": "none", "legendX": 788, "legendY": 68, "title": null, "symbolType": "square", "symbolSize": 225, "symbolStrokeWidth": 0, "symbolOpacity": 1, "labelFontSize": 17, "labelFontWeight": "bold", "labelColor": "black", "labelOffset": 14, "padding": 0}}
 }},
{"data": {"name": "b_links"}, "mark": {"type": "rule", "color": "black", "strokeWidth": 1.5}, "encoding": {"x": {"field": "pos", "type": "quantitative", "title": "Position"}, "x2": {"field": "pos2"}, "y": {"field": "lo", "type": "quantitative", "title": "Depth of coverage"}, "y2": {"field": "hi"}}},
{"data": {"name": "b_thick"}, "mark": {"type": "rule", "color": "black", "strokeWidth": 4}, "encoding": {"x": {"field": "pos", "type": "quantitative", "title": "Position"}, "x2": {"field": "pos2"}, "y": {"field": "lo", "type": "quantitative", "title": "Depth of coverage"}, "y2": {"field": "hi"}}},
{"data": {"name": "b_box"}, "mark": {"type": "rect", "fill": "white", "stroke": "black", "strokeWidth": 3}, "encoding": {"x": {"field": "pos", "type": "quantitative", "title": "Position"}, "x2": {"field": "pos2"}, "y": {"field": "lo", "type": "quantitative", "title": "Depth of coverage"}, "y2": {"field": "hi"}}},
{"data": {"name": "b_head"}, "mark": {"type": "text", "fontSize": 23, "fontWeight": "bold", "align": "left", "baseline": "middle", "color": "black"}, "encoding": {"x": {"field": "pos", "type": "quantitative", "title": "Position"}, "y": {"field": "depth", "type": "quantitative", "title": "Depth of coverage"}, "text": {"field": "text"}}},
{"data": {"name": "b_body"}, "mark": {"type": "text", "fontSize": 17, "fontWeight": "bold", "align": "left", "baseline": "middle", "color": "black"}, "encoding": {"x": {"field": "pos", "type": "quantitative", "title": "Position"}, "y": {"field": "depth", "type": "quantitative", "title": "Depth of coverage"}, "text": {"field": "text"}}},
{"data": {"name": "b_label"}, "mark": {"type": "text", "fontSize": 16, "fontWeight": "bold", "color": "black"}, "encoding": {"x": {"field": "pos", "type": "quantitative", "title": "Position"}, "y": {"field": "depth", "type": "quantitative", "title": "Depth of coverage"}, "text": {"field": "clone"}}},
{"data": {"name": "b_name"}, "mark": {"type": "text", "fontSize": 29, "fontWeight": "bold", "align": "left", "baseline": "middle", "color": "black"}, "encoding": {"x": {"field": "pos", "type": "quantitative", "title": "Position"}, "y": {"field": "depth", "type": "quantitative", "title": "Depth of coverage"}, "text": {"field": "sample"}}}
]
},
{
"width": 764, "height": 295,
"title": {"text": "c", "anchor": "start", "frame": "group", "orient": "top", "offset": 0, "dx": -58, "dy": 16, "fontSize": 28, "fontWeight": "bold", "color": "black"},
"layer": [
{"data": {"name": "c_gx"}, "mark": {"type": "rule", "color": "#e8e8e8", "strokeWidth": 1}, "encoding": {"x": {"field": "pos", "type": "quantitative", "title": "Position"}}},
{"data": {"name": "c_gy"}, "mark": {"type": "rule", "color": "#e8e8e8", "strokeWidth": 1}, "encoding": {"y": {"field": "depth", "type": "quantitative", "title": "Depth of coverage"}, "x": {"datum": 317, "type": "quantitative"}, "x2": {"datum": 5138}}},
{"data": {"name": "c_axis"}, "mark": {"type": "rule", "color": "black", "strokeWidth": 2}, "encoding": {"x": {"field": "pos", "type": "quantitative", "title": "Position"}, "y": {"datum": 0, "type": "quantitative"}, "y2": {"datum": 295}}},
{"data": {"name": "c_crf"}, "mark": {"type": "area", "opacity": 1},
 "encoding": {
  "x": {"field": "pos", "type": "quantitative", "title": "Position", "scale": {"domain": [253, 5138], "nice": false, "zero": false},
   "axis": {"values": [343, 1000, 2000, 3000, 4000, 5000], "format": "d", "labelExpr": "datum.value < 500 ? '1' : datum.label", "grid": false, "ticks": false, "tickSize": 0, "domainColor": "#1a1a1a", "domainWidth": 3, "labelFontSize": 17, "labelFontWeight": "bold", "labelColor": "black", "labelPadding": 14, "labelFlush": false, "labelOverlap": false, "labelBound": false, "titleFontSize": 17, "titleFontWeight": "bold", "titleColor": "black", "titleY": 48, "titleBaseline": "middle"}},
  "y": {"field": "lo", "type": "quantitative", "title": "Depth of coverage", "scale": {"domain": [0, 295], "nice": false, "zero": false},
   "axis": {"labels": false, "ticks": false, "grid": false, "domain": false, "titleFontSize": 17, "titleFontWeight": "bold", "titleColor": "black", "titleX": -30, "titleY": 155, "titleBaseline": "middle"}},
  "y2": {"field": "hi"},
  "detail": {"field": "clone"},
  "color": {"datum": "CRF02_AG", "scale": {"domain": ["A1", "CRF02_AG"], "range": ["#7b7b2f", "#b9e38a"]},
   "legend": {"orient": "none", "legendX": 792, "legendY": 22, "title": null, "symbolType": "square", "symbolSize": 200, "symbolStrokeWidth": 0, "symbolOpacity": 1, "labelFontSize": 17, "labelFontWeight": "bold", "labelColor": "black", "labelOffset": 8, "rowPadding": 0, "padding": 0}}
 }},
{"data": {"name": "c_a1"}, "mark": {"type": "area", "opacity": 1},
 "encoding": {
  "x": {"field": "pos", "type": "quantitative", "title": "Position"},
  "y": {"field": "lo", "type": "quantitative", "title": "Depth of coverage"},
  "y2": {"field": "hi"},
  "detail": {"field": "clone"},
  "color": {"datum": "A1", "scale": {"domain": ["A1", "CRF02_AG"], "range": ["#7b7b2f", "#b9e38a"]}}
 }},
{"data": {"name": "c_green"}, "mark": {"type": "rule", "color": "#8cc25e", "strokeWidth": 1.5}, "encoding": {"x": {"field": "pos", "type": "quantitative", "title": "Position"}, "x2": {"field": "pos2"}, "y": {"field": "lo", "type": "quantitative", "title": "Depth of coverage"}, "y2": {"field": "hi"}}},
{"data": {"name": "c_black"}, "mark": {"type": "rule", "color": "black", "strokeWidth": 1.5}, "encoding": {"x": {"field": "pos", "type": "quantitative", "title": "Position"}, "x2": {"field": "pos2"}, "y": {"field": "lo", "type": "quantitative", "title": "Depth of coverage"}, "y2": {"field": "hi"}}},
{"data": {"name": "c_red"}, "mark": {"type": "rule", "color": "#e8252a", "strokeWidth": 2}, "encoding": {"x": {"field": "pos", "type": "quantitative", "title": "Position"}, "x2": {"field": "pos2"}, "y": {"field": "lo", "type": "quantitative", "title": "Depth of coverage"}, "y2": {"field": "hi"}}},
{"data": {"name": "c_box"}, "mark": {"type": "rect", "fill": null, "fillOpacity": 0, "stroke": "#e8252a", "strokeWidth": 1.5}, "encoding": {"x": {"field": "pos", "type": "quantitative", "title": "Position"}, "x2": {"field": "pos2"}, "y": {"field": "lo", "type": "quantitative", "title": "Depth of coverage"}, "y2": {"field": "hi"}}},
{"data": {"name": "c_label"}, "mark": {"type": "text", "fontSize": 16, "fontWeight": "bold", "color": "black"}, "encoding": {"x": {"field": "pos", "type": "quantitative", "title": "Position"}, "y": {"field": "depth", "type": "quantitative", "title": "Depth of coverage"}, "text": {"field": "clone"}}},
{"data": {"name": "c_name"}, "mark": {"type": "text", "fontSize": 29, "fontWeight": "bold", "align": "left", "baseline": "middle", "color": "black"}, "encoding": {"x": {"field": "pos", "type": "quantitative", "title": "Position"}, "y": {"field": "depth", "type": "quantitative", "title": "Depth of coverage"}, "text": {"field": "sample"}}}
]
}
]
}
